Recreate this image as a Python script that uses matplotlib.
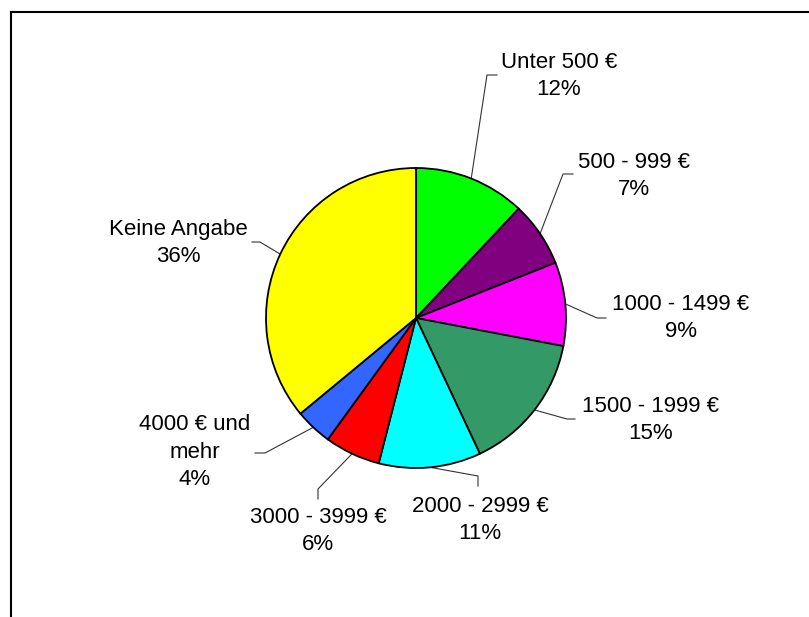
import matplotlib
matplotlib.use("Agg")
import matplotlib.pyplot as plt
import numpy as np

plt.rcParams["font.family"] = ["Liberation Sans", "DejaVu Sans"]

# data
categories = ["Unter 500 €", "500 - 999 €", "1000 - 1499 €", "1500 - 1999 €",
              "2000 - 2999 €", "3000 - 3999 €", "4000 € und\nmehr", "Keine Angabe"]
shares = [12, 7, 9, 15, 11, 6, 4, 36]
colors = ["#00FF00", "#800080", "#FF00FF", "#339966",
          "#00FFFF", "#FF0000", "#3366FF", "#FFFF00"]

# layout (pixel coords, y from top)
W, H = 809, 617
center_px = (416, 318)
radius_px = 150
label_pos = [(559, 76), (634, 176), (681, 318), (651, 420),
             (480, 520), (318, 531), (195, 452), (178, 243)]
leader_elbow = [(487, 75), (563, 174), (597, 318), (567, 419),
                (478, 476), (318, 489), (265, 453), (260, 242)]
leader_end = [(497, 75), (573, 174), (606, 318), (575, 419),
              (478, 486), (318, 499), (255, 453), (252, 242)]


def to_data(p):
    return p[0], H - p[1]


fig = plt.figure(figsize=(W / 100, H / 100), dpi=100)
ax = fig.add_axes([0, 0, 1, 1])

cx, cy = to_data(center_px)
wedges, _ = ax.pie(shares, colors=colors, startangle=90, counterclock=False,
                   center=(cx, cy), radius=radius_px,
                   wedgeprops=dict(edgecolor="black", linewidth=1.3))
ax.set_xlim(0, W)
ax.set_ylim(0, H)
ax.set_aspect("equal")
ax.axis("off")

for w, name, val, lp, el, en in zip(wedges, categories, shares,
                                    label_pos, leader_elbow, leader_end):
    mid = np.deg2rad((w.theta1 + w.theta2) / 2)
    sx, sy = cx + radius_px * np.cos(mid), cy + radius_px * np.sin(mid)
    ex, ey = to_data(el)
    nx, ny = to_data(en)
    ax.plot([sx, ex, nx], [sy, ey, ny], color="#333333", lw=0.8, zorder=0)
    tx, ty = to_data(lp)
    ax.text(tx, ty, f"{name}\n{val}%", ha="center", va="center",
            fontsize=16, linespacing=1.38, color="black")

# chart area border (only top and left edges visible)
ax.plot([11, W], [H - 12, H - 12], color="black", lw=1.5, clip_on=False)
ax.plot([11, 11], [H - 12, 0], color="black", lw=1.5, clip_on=False)

fig.savefig("out.png", dpi=100)
